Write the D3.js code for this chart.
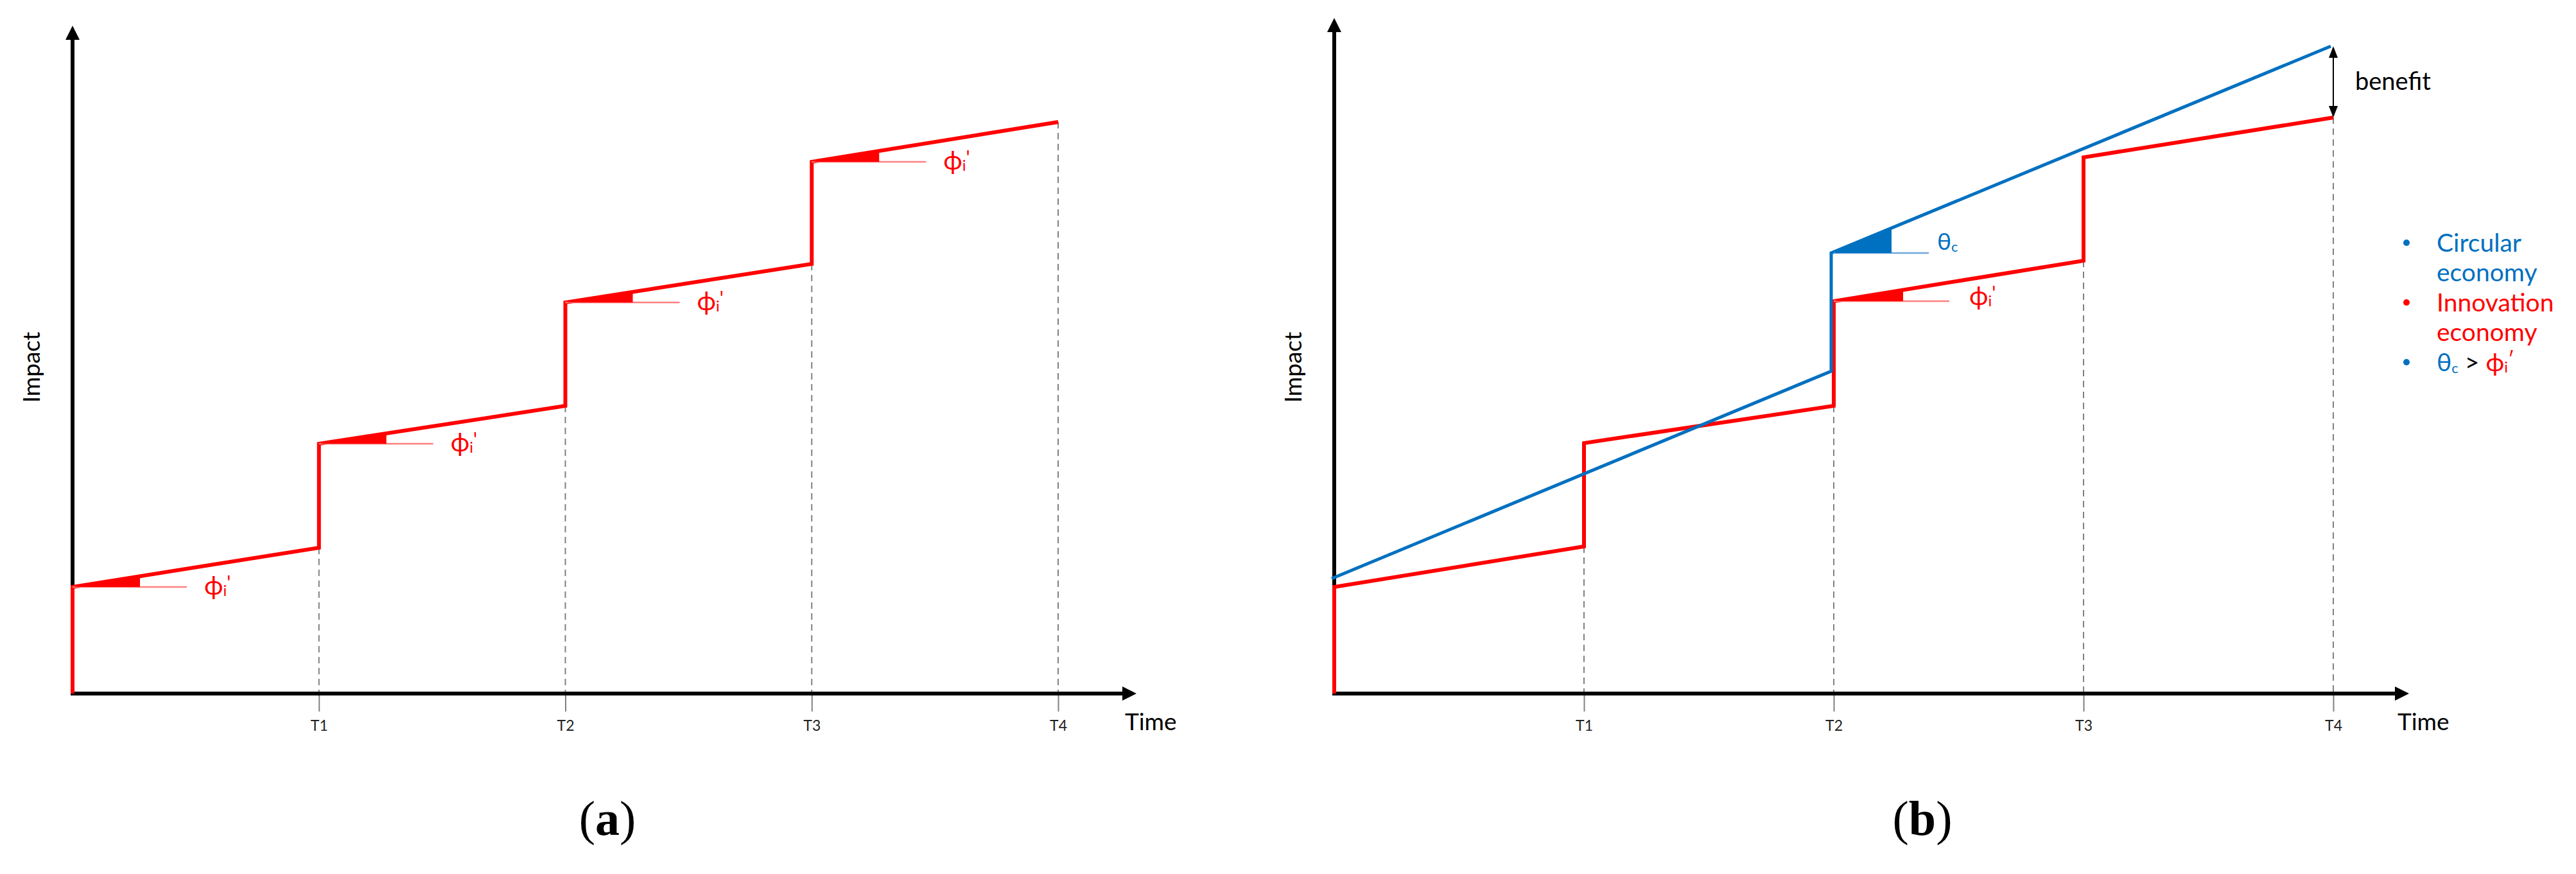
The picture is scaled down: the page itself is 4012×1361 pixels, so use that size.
<!DOCTYPE html>
<html><head><meta charset="utf-8">
<script src="https://cdn.jsdelivr.net/npm/d3@7"></script>
<style>body{margin:0;background:#fff}</style>
</head><body>
<svg id="c" width="4012" height="1361" xmlns="http://www.w3.org/2000/svg"></svg>
<script>
// ---- data ----
const timeTicks   = [1, 2, 3, 4];
const tickLabels  = ["T1", "T2", "T3", "T4"];
// innovation economy: value at the start and at the end of each period
const innovStartA = [16.6, 38.9, 60.9, 82.8];
const innovEndA   = [22.7, 44.8, 66.9, 89.0];
const innovStartB = [16.6, 39.0, 61.1, 83.5];
const innovEndB   = [22.9, 44.8, 67.4, 89.7];
// circular economy (panel b)
const circTime    = [0, 2, 2, 4];
const circValue   = [17.9, 50.2, 68.6, 100.8];
const legendLines = ["Circular", "economy", "Innovation", "economy"];
const panelLabels = ["a", "b"];

const RED = "#ff0000", BLUE = "#0070c0", LRED = "#ff8080", LBLUE = "#6fa8dc", GREY = "#808080";
const SANS = "Lato, 'Open Sans', sans-serif";
const svg = d3.select("#c");
svg.append("rect").attr("width", 4012).attr("height", 1361).attr("fill", "#fff");

const y = d3.scaleLinear().domain([0, 100]).range([1080, 80]);

function innovPoints(starts, ends) {
  const pts = [[0, 0]];
  starts.forEach((s, i) => { pts.push([i, s]); pts.push([i + 1, ends[i]]); });
  return pts;
}

function makePanel(o) {
  const x = d3.scaleLinear().domain([0, 4]).range(o.range);
  const g = svg.append("g");
  const ax = d3.axisBottom(x).tickValues(timeTicks)
    .tickFormat((d, i) => tickLabels[i]).tickSize(28).tickPadding(14);
  const axg = g.append("g").attr("transform", `translate(0,${y(0)})`).call(ax);
  axg.select(".domain").remove();
  axg.selectAll(".tick line").attr("stroke", GREY).attr("stroke-width", 2);
  axg.selectAll(".tick text").attr("font-family", SANS).attr("font-size", 23).attr("fill", "#222");
  g.selectAll(".drop").data(o.ends).join("line")
    .attr("x1", (d, i) => x(i + 1)).attr("x2", (d, i) => x(i + 1))
    .attr("y1", d => y(d)).attr("y2", y(0))
    .attr("stroke", GREY).attr("stroke-width", 2).attr("stroke-dasharray", "10,7");
  const x0 = x(0), yb = y(0);
  g.append("line").attr("x1", x0 - 3).attr("x2", o.arrowX - 18).attr("y1", yb).attr("y2", yb)
    .attr("stroke", "#000").attr("stroke-width", 6);
  g.append("path").attr("d", `M${o.arrowX},${yb} L${o.arrowX - 22},${yb - 11} L${o.arrowX - 22},${yb + 11} Z`).attr("fill", "#000");
  g.append("line").attr("x1", x0).attr("x2", x0).attr("y1", yb + 3).attr("y2", o.arrowTop + 18)
    .attr("stroke", "#000").attr("stroke-width", 6);
  g.append("path").attr("d", `M${x0},${o.arrowTop} L${x0 - 11},${o.arrowTop + 22} L${x0 + 11},${o.arrowTop + 22} Z`).attr("fill", "#000");
  g.append("text").attr("x", o.arrowX - 18).attr("y", 1137).attr("font-family", SANS)
    .attr("font-size", 37).attr("fill", "#000").text("Time");
  g.append("text").attr("transform", `translate(${x0 - 51},572) rotate(-90)`).attr("text-anchor", "middle")
    .attr("font-family", SANS).attr("font-size", 37).attr("fill", "#000").text("Impact");
  const pl = g.append("text").attr("x", o.labelX).attr("y", 1300).attr("text-anchor", "middle")
    .attr("font-family", "'Liberation Serif', 'DejaVu Serif', serif").attr("font-size", 76).attr("fill", "#000");
  pl.append("tspan").text("(");
  pl.append("tspan").attr("font-weight", "bold").text(o.label);
  pl.append("tspan").text(")");
  return { g, x };
}

function wedge(g, x, t0, v0, t1, v1, w, L, col, lcol) {
  const px0 = x(t0), py0 = y(v0), px1 = x(t1), py1 = y(v1);
  const yw = py0 + (py1 - py0) * w / (px1 - px0);
  g.append("line").attr("x1", px0).attr("x2", px0 + L).attr("y1", py0).attr("y2", py0)
    .attr("stroke", lcol).attr("stroke-width", 2.5);
  g.append("path").attr("d", `M${px0},${py0} L${px0 + w},${yw} L${px0 + w},${py0} Z`).attr("fill", col);
}

function phiLabel(g, xp, yp) {
  const t = g.append("text").attr("x", xp).attr("y", yp + 12).attr("font-family", SANS).attr("fill", RED);
  t.append("tspan").attr("font-size", 40).text("ϕ");
  t.append("tspan").attr("font-size", 24).attr("dy", 2).text("i");
  t.append("tspan").attr("font-size", 30).attr("dy", -10).text("'");
}

function thetaLabel(g, xp, yp) {
  const t = g.append("text").attr("x", xp).attr("y", yp + 12).attr("font-family", SANS).attr("fill", BLUE);
  t.append("tspan").attr("font-size", 37).text("θ");
  t.append("tspan").attr("font-size", 22).attr("dy", 3).text("c");
}

const redLine = (x) => d3.line().x(d => x(d[0])).y(d => y(d[1]));

// ---------- Panel (a) ----------
const A = makePanel({ range: [113, 1648], arrowX: 1770, arrowTop: 40, label: panelLabels[0], labelX: 946, ends: innovEndA });
A.g.append("path").attr("d", redLine(A.x)(innovPoints(innovStartA, innovEndA)))
  .attr("fill", "none").attr("stroke", RED).attr("stroke-width", 6).attr("stroke-linejoin", "miter");
innovStartA.forEach((s, i) => {
  wedge(A.g, A.x, i, s, i + 1, innovEndA[i], 105, 178, RED, LRED);
  phiLabel(A.g, A.x(i) + 205, y(s));
});

// ---------- Panel (b) ----------
const B = makePanel({ range: [2078, 3634], arrowX: 3752, arrowTop: 28, label: panelLabels[1], labelX: 2994, ends: innovEndB });
B.g.append("path").attr("d", redLine(B.x)(innovPoints(innovStartB, innovEndB)))
  .attr("fill", "none").attr("stroke", RED).attr("stroke-width", 6);
B.g.append("path").attr("d", d3.line().x(d => B.x(d[0])).y(d => y(d[1]))(circTime.map((t, i) => [t, circValue[i]])))
  .attr("fill", "none").attr("stroke", BLUE).attr("stroke-width", 5).attr("transform", "translate(-4,0)");
wedge(B.g, B.x, 2, innovStartB[2], 3, innovEndB[2], 108, 180, RED, LRED);
phiLabel(B.g, B.x(2) + 211, y(innovStartB[2]) - 6);
wedge(B.g, B.x, 2, circValue[2], 4, circValue[3], 90, 148, BLUE, LBLUE);
thetaLabel(B.g, B.x(2) + 161, y(circValue[2]) - 17);

// benefit arrow
const bx = B.x(4), by1 = y(circValue[3]), by2 = y(innovEndB[3]);
B.g.append("line").attr("x1", bx).attr("x2", bx).attr("y1", by1 + 14).attr("y2", by2 - 14)
  .attr("stroke", "#000").attr("stroke-width", 2);
B.g.append("path").attr("d", `M${bx},${by1} L${bx - 7},${by1 + 18} L${bx + 7},${by1 + 18} Z`).attr("fill", "#000");
B.g.append("path").attr("d", `M${bx},${by2} L${bx - 7},${by2 - 18} L${bx + 7},${by2 - 18} Z`).attr("fill", "#000");
B.g.append("text").attr("x", bx + 34).attr("y", (by1 + by2) / 2 + 12).attr("font-family", SANS)
  .attr("font-size", 38).attr("fill", "#000").text("benefit");

// legend
const legCols = [BLUE, BLUE, RED, RED];
const legY = [392, 438, 485, 531];
legendLines.forEach((t, i) => {
  B.g.append("text").attr("x", 3795).attr("y", legY[i]).attr("font-family", SANS).attr("font-size", 39)
    .attr("fill", legCols[i]).text(t);
});
[[392, BLUE], [485, RED], [578, BLUE]].forEach(([yy, c]) => {
  B.g.append("circle").attr("cx", 3748).attr("cy", yy - 14).attr("r", 5).attr("fill", c);
});
const lt = B.g.append("text").attr("x", 3795).attr("y", 578).attr("font-family", SANS).attr("font-size", 39);
lt.append("tspan").attr("fill", BLUE).text("θ");
lt.append("tspan").attr("fill", BLUE).attr("font-size", 22).attr("dy", 3).text("c");
lt.append("tspan").attr("fill", "#000").attr("dy", -3).text(" > ");
lt.append("tspan").attr("fill", RED).text("ϕ");
lt.append("tspan").attr("fill", RED).attr("font-size", 24).attr("dy", 2).text("i");
lt.append("tspan").attr("fill", RED).attr("font-size", 30).attr("dy", -10).text("′");
</script>
</body></html>
